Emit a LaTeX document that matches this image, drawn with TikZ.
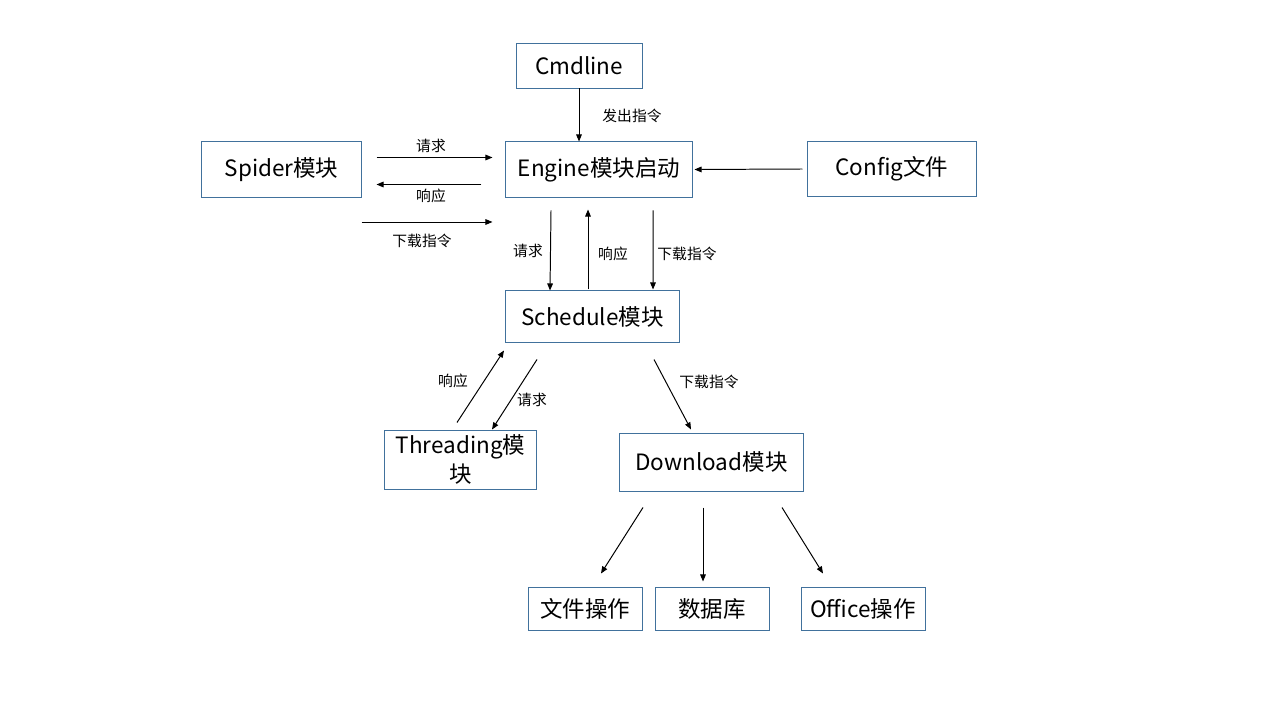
\documentclass[tikz,border=0pt]{standalone}
\usepackage{fontspec}
\setmainfont{Noto Sans CJK SC}
\usepackage{xcolor}
\usetikzlibrary{positioning}
\usetikzlibrary{calc}
\usetikzlibrary{arrows.meta}
\definecolor{boxblue}{RGB}{65,113,156}
\tikzstyle{module} = [rectangle, draw=boxblue, line width=0.7pt, font=\fontsize{16}{20}\selectfont, inner sep=0pt, align=center]
\tikzstyle{lbl} = [font=\fontsize{10.5}{12}\selectfont, inner sep=1pt]
\tikzstyle{arrow} = [line width=0.7pt, -{Triangle[length=5pt,width=4pt]}]

\begin{document}
\begin{tikzpicture}[x=0.025cm, y=-0.025cm]
\useasboundingbox (0,0) rectangle (1280,720);
% modules
\node[module, minimum width=3.15cm, minimum height=1.1cm] (cmd) at (579,66) {Cmdline};
\node[module, minimum width=4.65cm, minimum height=1.375cm] (engine) at (599,169.5) {Engine模块启动};
\node[module, minimum width=3.975cm, minimum height=1.375cm] (spider) at (281.5,169.5) {Spider模块};
\node[module, minimum width=4.2cm, minimum height=1.35cm] (config) at (892,169) {Config文件};
\node[module, minimum width=4.325cm, minimum height=1.275cm] (schedule) at (592.5,316.5) {Schedule模块};
\node[module, minimum width=3.775cm, minimum height=1.475cm] (threading) at (460.5,459.5) {Threading模\\块};
\node[module, minimum width=4.575cm, minimum height=1.45cm] (download) at (711.5,462) {Download模块};
\node[module, minimum width=2.85cm, minimum height=1.075cm] (file) at (585,608.5) {文件操作};
\node[module, minimum width=2.85cm, minimum height=1.075cm] (db) at (712,608.5) {数据库};
\node[module, minimum width=3.1cm, minimum height=1.075cm] (office) at (863,608.5) {Office操作};
% connectors
\draw[arrow] (cmd.south) -- (cmd.south |- engine.north);
\draw[arrow] ($(spider.east)+(15,-12)$) -- ($(engine.west)+(-13,-12)$);
\draw[arrow] ($(engine.west)+(-24,15)$) -- ($(spider.east)+(15,15)$);
\draw[arrow] ($(spider.east)+(0,52.5)$) -- ($(engine.west)+(-13,52.5)$);
\draw[arrow] ($(config.west)+(-5,0)$) -- ($(engine.east)+(2,0)$);
\draw[arrow] ($(engine.south)+(-48,13)$) -- ($(schedule.north)+(-42.5,0)$);
\draw[arrow] ($(schedule.north)+(-4.5,-1)$) -- ($(engine.south)+(-11,12)$);
\draw[arrow] ($(engine.south)+(54,13)$) -- ($(schedule.north)+(60.5,-1)$);
\draw[arrow] ($(threading.north)+(-3.5,-7)$) -- ($(schedule.south)+(-88.5,8)$);
\draw[arrow] ($(schedule.south)+(-55.5,17)$) -- ($(threading.north)+(31.5,0)$);
\draw[arrow] ($(schedule.south)+(61.5,17)$) -- ($(download.north)+(-20.5,-3)$);
\draw[arrow] ($(download.south)+(-68.5,16)$) -- ($(file.north)+(16,-13)$);
\draw[arrow] ($(download.south)+(-8.5,16)$) -- ($(db.north)+(-9,-5)$);
\draw[arrow] ($(download.south)+(70.5,16)$) -- ($(office.north)+(-40,-13)$);
% labels
\node[lbl] (lcmd) at (632,116) {发出指令};
\node[lbl] (lreqa) at (431,146) {请求};
\node[lbl] (lresa) at (431,196) {响应};
\node[lbl] (ldla) at (422,241) {下载指令};
\node[lbl] (lreqb) at (528,251) {请求};
\node[lbl] (lresb) at (613,254) {响应};
\node[lbl] (ldlb) at (687,254) {下载指令};
\node[lbl] (lresc) at (453,381) {响应};
\node[lbl] (lreqc) at (532,400) {请求};
\node[lbl] (ldlc) at (709,382) {下载指令};
\end{tikzpicture}
\end{document}
